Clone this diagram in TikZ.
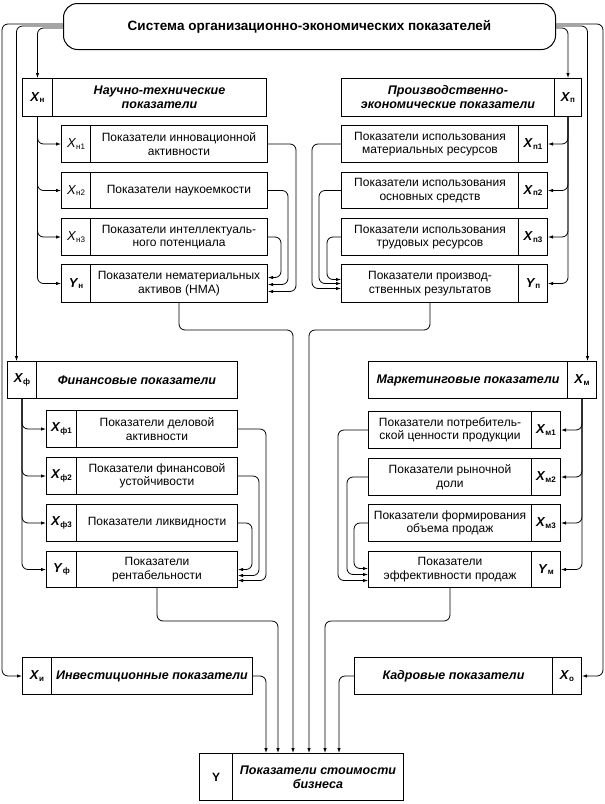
\documentclass[tikz,border=0pt]{standalone}
\usepackage{fontspec}
\setmainfont{Liberation Sans}
\usetikzlibrary{arrows.meta}
\tikzset{
  cell/.style={draw, line width=1pt, inner sep=0pt, align=center, anchor=north west,
    font=\fontsize{12}{13.5}\selectfont},
  hcell/.style={cell, font=\fontsize{12.5}{14}\selectfont\bfseries\itshape},
  conn/.style={line width=0.8pt, rounded corners=6pt},
  arr/.style={conn, -{Latex[length=5pt,width=3.5pt]}},
}
\newcommand\cbox[7][cell]{\node[#1, minimum width={(#5)-(#3)}, minimum height={(#6)-(#4)}] (#2) at (#3,#4) {#7};}
\newcommand\labX[1]{{\fontsize{13}{14}\selectfont\textbf{\textit{X}}}\raisebox{-1.5pt}{\fontsize{8}{8}\selectfont\bfseries #1}}
\newcommand\labY[1]{{\fontsize{13}{14}\selectfont\textbf{\textit{Y}}}\raisebox{-1.5pt}{\fontsize{8}{8}\selectfont\bfseries #1}}
\newcommand\labXr[1]{{\fontsize{13}{14}\selectfont\textit{X}}\raisebox{-1.5pt}{\fontsize{8}{8}\selectfont #1}}
\begin{document}
\begin{tikzpicture}[x=1pt,y=-1pt]
\useasboundingbox (0,0) rectangle (605,804);
% top
\node[draw, line width=1pt, rounded corners=14pt, minimum width=492pt, minimum height=46pt,
  anchor=north west, inner sep=0pt, font=\fontsize{13.5}{15}\selectfont\bfseries] (T) at (63,3)
  {Система организационно-экономических показателей};
% Nauchno group
\cbox{NX}{22}{78}{52}{116}{\labX{н}}
\cbox[hcell]{NH}{52}{78}{266}{116}{Научно-технические\\показатели}
\cbox{N1x}{61}{125}{90}{162}{\labXr{н1}}
\cbox{N1}{90}{125}{267}{162}{Показатели инновационной\\активности}
\cbox{N2x}{61}{172}{90}{208}{\labXr{н2}}
\cbox{N2}{90}{172}{267}{208}{Показатели наукоемкости}
\cbox{N3x}{61}{218}{90}{255}{\labXr{н3}}
\cbox{N3}{90}{218}{267}{255}{Показатели интеллектуаль-\\ного потенциала}
\cbox{N4x}{61}{264}{90}{302}{\labY{н}}
\cbox{N4}{90}{264}{267}{302}{Показатели нематериальных\\активов (НМА)}
% Proizv group
\cbox[hcell]{PH}{341}{78}{554}{116}{Производственно-\\экономические показатели}
\cbox{PX}{554}{78}{581}{116}{\labX{п}}
\cbox{P1}{341}{125}{518}{162}{Показатели использования\\материальных ресурсов}
\cbox{P1x}{518}{125}{547}{162}{\labX{п1}}
\cbox{P2}{341}{172}{518}{208}{Показатели использования\\основных средств}
\cbox{P2x}{518}{172}{547}{208}{\labX{п2}}
\cbox{P3}{341}{218}{518}{255}{Показатели использования\\трудовых ресурсов}
\cbox{P3x}{518}{218}{547}{255}{\labX{п3}}
\cbox{P4}{341}{264}{518}{302}{Показатели производ-\\ственных результатов}
\cbox{P4x}{518}{264}{547}{302}{\labY{п}}
% Fin group
\cbox{FX}{7}{361}{36}{398}{\labX{ф}}
\cbox[hcell]{FH}{36}{361}{237}{398}{Финансовые показатели}
\cbox{F1x}{46}{410}{76}{447}{\labX{ф1}}
\cbox{F1}{76}{410}{237}{447}{Показатели деловой\\активности}
\cbox{F2x}{46}{457}{76}{494}{\labX{ф2}}
\cbox{F2}{76}{457}{237}{494}{Показатели финансовой\\устойчивости}
\cbox{F3x}{46}{504}{76}{541}{\labX{ф3}}
\cbox{F3}{76}{504}{237}{541}{Показатели ликвидности}
\cbox{F4x}{46}{551}{76}{587}{\labY{ф}}
\cbox{F4}{76}{551}{237}{587}{Показатели\\рентабельности}
% Market group
\cbox[hcell]{MH}{368}{361}{567}{398}{Маркетинговые показатели}
\cbox{MX}{567}{361}{596}{398}{\labX{м}}
\cbox{M1}{368}{411}{531}{448}{Показатели потребитель-\\ской ценности продукции}
\cbox{M1x}{531}{411}{560}{448}{\labX{м1}}
\cbox{M2}{368}{458}{531}{495}{Показатели рыночной\\доли}
\cbox{M2x}{531}{458}{560}{495}{\labX{м2}}
\cbox{M3}{368}{504}{531}{541}{Показатели формирования\\объема продаж}
\cbox{M3x}{531}{504}{560}{541}{\labX{м3}}
\cbox{M4}{368}{551}{531}{587}{Показатели\\эффективности продаж}
\cbox{M4x}{531}{551}{560}{587}{\labY{м}}
% Invest / Kadr
\cbox{XIx}{22}{657}{51}{694}{\labX{и}}
\cbox[hcell]{XI}{51}{657}{252}{694}{Инвестиционные показатели}
\cbox[hcell]{KT}{354}{657}{552}{694}{Кадровые показатели}
\cbox{KXo}{552}{657}{581}{694}{\labX{о}}
% bottom
\cbox{BY}{199}{753}{232}{800}{\textbf{Y}}
\cbox[hcell]{BT}{232}{753}{403}{800}{Показатели стоимости\\бизнеса}
% top connectors
\draw[arr] ([yshift=-21pt]T.north west) -| ([xshift=-20pt]XIx.west) -- (XIx.west);
\draw[arr] ([yshift=-23pt]T.north west) -| ([xshift=-5.5pt]FX.north);
\draw[arr] ([yshift=-25pt]T.north west) -| (NX.north);
\draw[arr] ([yshift=-21pt]T.north east) -| ([xshift=21pt]KXo.east) -- (KXo.east);
\draw[arr] ([yshift=-23pt]T.north east) -| ([xshift=5.5pt]MX.north);
\draw[arr] ([yshift=-25pt]T.north east) -| (PX.north);
% branches
\foreach \i in {1,...,4}{
  \draw[arr] (NX.south) |- (N\i x.west);
  \draw[arr] (PX.south) |- (P\i x.east);
  \draw[arr] (FX.south) |- (F\i x.west);
  \draw[arr] (MX.south) |- (M\i x.east);
}
% feedback
\draw[arr] (N1.east) -| ([xshift=28pt,yshift=-8pt]N4.east) -- ([yshift=-8pt]N4.east);
\draw[arr] (N2.east) -| ([xshift=20pt,yshift=-1pt]N4.east) -- ([yshift=-1pt]N4.east);
\draw[arr] (N3.east) -| ([xshift=13pt,yshift=6pt]N4.east) -- ([yshift=6pt]N4.east);
\draw[arr] (P1.west) -| ([xshift=-29pt,yshift=-5pt]P4.west) -- ([yshift=-5pt]P4.west);
\draw[arr] (P2.west) -| ([xshift=-22pt,yshift=0pt]P4.west) -- ([yshift=0pt]P4.west);
\draw[arr] (P3.west) -| ([xshift=-14pt,yshift=4pt]P4.west) -- ([yshift=4pt]P4.west);
\draw[arr] (F1.east) -| ([xshift=28pt,yshift=-11pt]F4.east) -- ([yshift=-11pt]F4.east);
\draw[arr] (F2.east) -| ([xshift=21pt,yshift=-6pt]F4.east) -- ([yshift=-6pt]F4.east);
\draw[arr] (F3.east) -| ([xshift=14pt,yshift=0pt]F4.east) -- ([yshift=0pt]F4.east);
\draw[arr] (M1.west) -| ([xshift=-30pt,yshift=-11pt]M4.west) -- ([yshift=-11pt]M4.west);
\draw[arr] (M2.west) -| ([xshift=-21pt,yshift=-5pt]M4.west) -- ([yshift=-5pt]M4.west);
\draw[arr] (M3.west) -| ([xshift=-14pt,yshift=1pt]M4.west) -- ([yshift=1pt]M4.west);
% to bottom
\draw[arr] (XI.east) -| ([xshift=67pt]BY.north west);
\draw[arr] (F4.south) -- ++(0,33) -| ([xshift=79pt]BY.north west);
\draw[arr] (N4.south) -- ++(0,27) -| ([xshift=94pt]BY.north west);
\draw[arr] (P4.south) -- ++(0,27) -| ([xshift=110pt]BY.north west);
\draw[arr] (M4.south) -- ++(0,33) -| ([xshift=126pt]BY.north west);
\draw[arr] (KT.west) -| ([xshift=140pt]BY.north west);
\end{tikzpicture}
\end{document}
